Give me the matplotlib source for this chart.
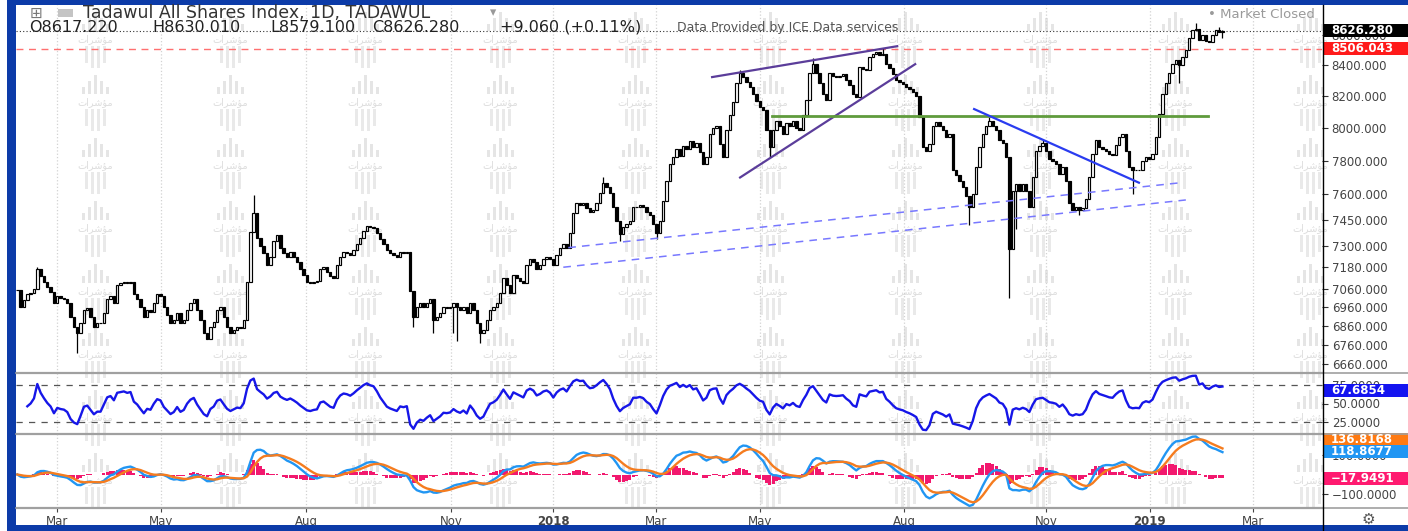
import numpy as np
import pandas as pd
import matplotlib
matplotlib.use("Agg")
import matplotlib.pyplot as plt
from matplotlib.patches import Rectangle
from matplotlib.ticker import FixedLocator, FixedFormatter, NullLocator, NullFormatter

plt.rcParams['font.family'] = ['DejaVu Sans']

# daily closes (one bar here ~ 1.4 sessions), Feb 2017 -> Feb 2019
closes = [
    7055, 6960, 7000, 7030, 7040, 7060, 7170, 7130, 7100, 7070,
    7045, 6985, 7020, 7010, 7005, 6985, 6910, 6855, 6825, 6875,
    6945, 6955, 6910, 6855, 6875, 6875, 6930, 7005, 7020, 6985,
    7080, 7090, 7100, 7090, 7100, 7030, 7005, 6960, 6910, 6945,
    6935, 6985, 7030, 7020, 6960, 6920, 6875, 6890, 6930, 6875,
    6890, 6945, 6985, 7005, 6945, 6890, 6825, 6790, 6855, 6880,
    6945, 6960, 6910, 6855, 6825, 6840, 6855, 6850, 6890, 7100,
    7380, 7490, 7345, 7300, 7260, 7190, 7240, 7330, 7360, 7290,
    7260, 7240, 7265, 7240, 7210, 7170, 7135, 7100, 7090, 7100,
    7105, 7170, 7180, 7155, 7130, 7120, 7190, 7240, 7265, 7260,
    7250, 7275, 7310, 7345, 7385, 7415, 7405, 7400, 7375, 7340,
    7310, 7275, 7260, 7250, 7240, 7265, 7260, 7265, 7050, 6910,
    6960, 6985, 6960, 6985, 7005, 6890, 6910, 6930, 6960, 6955,
    6960, 6985, 6960, 6945, 6960, 6930, 6985, 6945, 6875, 6825,
    6840, 6890, 6945, 6960, 6985, 7040, 7120, 7080, 7040, 7135,
    7120, 7105, 7090, 7190, 7225, 7210, 7170, 7190, 7225, 7240,
    7225, 7190, 7250, 7290, 7310, 7290, 7375, 7490, 7545, 7535,
    7545, 7515, 7495, 7505, 7545, 7605, 7665, 7640, 7605, 7525,
    7445, 7370, 7405, 7425, 7445, 7525, 7525, 7535, 7525, 7495,
    7475, 7425, 7375, 7445, 7560, 7680, 7780, 7820, 7870, 7830,
    7890, 7870, 7920, 7880, 7905, 7850, 7780, 7820, 7965, 8000,
    8010, 7900, 7820, 7985, 8080, 8160, 8285, 8350, 8325, 8290,
    8260, 8215, 8170, 8130, 8115, 7985, 7885, 7985, 8045, 8010,
    7965, 8030, 8010, 8045, 8000, 7985, 8080, 8175, 8350, 8410,
    8350, 8285, 8215, 8175, 8350, 8330, 8325, 8330, 8340, 8300,
    8270, 8215, 8195, 8390, 8375, 8365, 8455, 8470, 8485, 8465,
    8475, 8410, 8380, 8340, 8305, 8290, 8280, 8260, 8245, 8225,
    8200, 8065, 7880, 7860, 7900, 8010, 8035, 8010, 7985, 7945,
    7965, 7740, 7710, 7680, 7640, 7590, 7525, 7600, 7760, 7885,
    7965, 8010, 8045, 8015, 7985, 7925, 7905, 7820, 7280, 7620,
    7660, 7620, 7660, 7620, 7525, 7700, 7860, 7890, 7905, 7860,
    7810, 7800, 7780, 7720, 7760, 7680, 7545, 7505, 7525, 7505,
    7515, 7570, 7700, 7840, 7925, 7885, 7870, 7855, 7840, 7835,
    7895, 7945, 7965, 7860, 7760, 7740, 7745, 7740, 7800, 7820,
    7810, 7840, 7945, 8090, 8215, 8285, 8350, 8410, 8430, 8400,
    8455, 8500, 8580, 8630, 8640, 8565, 8600, 8560, 8550, 8600,
    8630, 8617.22, 8626.28,
]
# long wicks (bar index -> value)
wick_low = {18: 6720, 119: 6855, 125: 6825, 131: 6825, 132: 6780, 139: 6770,
            181: 7330, 192: 7340, 226: 7820, 286: 7420, 298: 7010, 300: 7395,
            319: 7475, 335: 7600, 349: 8285, 362: 8579.10}
wick_high = {6: 7180, 71: 7595, 176: 7700, 217: 8370, 239: 8445, 260: 8510,
             292: 8065, 308: 7925, 354: 8680, 361: 8650, 362: 8630.01}

month_pos = [12.0, 43.2, 86.8, 130.3, 161.0, 191.9, 223.1, 266.4, 309.0, 340.2, 371.2]
month_lbl = ['Mar', 'May', 'Aug', 'Nov', '2018', 'Mar', 'May', 'Aug', 'Nov', '2019', 'Mar']

price_ticks = [6660, 6760, 6860, 6960, 7060, 7180, 7300, 7450, 7600, 7800, 8000, 8200, 8400, 8600]
rsi_ticks = [25, 50, 75]
macd_ticks = [-100, 100]

alert_price = 8506.043
rsi_last = 67.6854
macd_last = 118.8677
signal_last = 136.8168
hist_last = -17.9491

# drawings on the chart: ((bar, price), (bar, price))
purple_lines = [((208.7, 8322), (264.3, 8524)), ((217.1, 7698), (269.7, 8406))]
green_line = ((226.7, 8074), (357.7, 8074))
blue_line = ((287.4, 8118), (336.9, 7667))
dashed_lines = [((165.5, 7290), (348.6, 7665)), ((164.0, 7180), (351.0, 7565))]

# ---------------------------------------------------------------
W, H = 1408, 531
c = pd.Series(closes, dtype=float)
o = c.shift(1).fillna(c.iloc[0])
hi = np.maximum(o, c).values.copy()
lo = np.minimum(o, c).values.copy()
for k, v in wick_high.items():
    hi[k] = max(hi[k], v)
for k, v in wick_low.items():
    lo[k] = min(lo[k], v)
x = np.arange(len(c))

# indicators (periods shortened since a bar is ~1.4 sessions)
d = c.diff().fillna(0)
gain = d.clip(lower=0).ewm(alpha=1 / 10, adjust=True).mean()
loss = (-d.clip(upper=0)).ewm(alpha=1 / 10, adjust=True).mean()
rsi = 100 - 100 / (1 + gain / loss)
rsi[:3] = np.nan
macd = c.ewm(span=8, adjust=False).mean() - c.ewm(span=18, adjust=False).mean()
signal = macd.ewm(span=6, adjust=False).mean()
hist = macd - signal


def rect(x0, y0, x1, y1):
    return [x0 / W, 1 - y1 / H, (x1 - x0) / W, (y1 - y0) / H]


fig = plt.figure(figsize=(W / 100, H / 100), dpi=100)
fig.patch.set_facecolor('white')

# background watermark
bg = fig.add_axes([0, 0, 1, 1], zorder=0)
bg.set_xlim(0, W)
bg.set_ylim(H, 0)
bg.axis('off')
wm = '\ufe95\ufe8d\ufeae\ufeb7\ufe86\ufee3'
for ry in np.arange(39, H - 20, 63):
    for cx in np.arange(95, 1360, 135):
        bg.text(cx, ry, wm, fontsize=7, color='#dddddd', ha='center', va='center')
        for dx, h in zip([-12, -6, 0, 6, 12], [7, 13, 19, 13, 7]):
            bg.add_patch(Rectangle((cx + dx - 1.5, ry - 8 - h), 3, h, fc='#e5e5e5', ec='none'))
        for dx, h in zip([-9, -3, 3, 9], [17, 22, 22, 17]):
            bg.add_patch(Rectangle((cx + dx - 1.5, ry + 7), 3, h, fc='#e9e9e9', ec='none'))

ax = fig.add_axes(rect(16, 5, 1322, 373), zorder=1)
ax_r = fig.add_axes(rect(16, 373, 1322, 434), zorder=1)
ax_m = fig.add_axes(rect(16, 434, 1322, 508), zorder=1)

for a in (ax, ax_r, ax_m):
    a.set_facecolor('none')
    a.set_xlim(-0.4, 391.9)
    a.xaxis.set_major_locator(FixedLocator(month_pos))
    a.grid(True, axis='x', color='#d2d2d2', ls=':', lw=0.9)
    a.set_axisbelow(True)
    for s in ('top', 'left', 'right'):
        a.spines[s].set_visible(False)
    a.spines['bottom'].set_color('#a0a0a0')
    a.spines['bottom'].set_linewidth(1.6)
    a.yaxis.tick_right()
    a.tick_params(axis='y', right=True, left=False, labelright=True, labelleft=False,
                  length=4, width=0.8, color='#333333', labelsize=8.5,
                  labelcolor='#444444', pad=3)
    a.yaxis.set_minor_locator(NullLocator())
for a in (ax, ax_r):
    a.tick_params(axis='x', bottom=False, labelbottom=False)

# price pane
ax.set_yscale('log')
ax.set_ylim(6614, 8801)
ax.yaxis.set_major_locator(FixedLocator(price_ticks))
ax.yaxis.set_major_formatter(FixedFormatter([f'{t:.3f}' for t in price_ticks]))
ax.yaxis.set_minor_locator(NullLocator())
ax.yaxis.set_minor_formatter(NullFormatter())

ax.axhline(c.iloc[-1], color='#333333', ls=(0, (1, 2)), lw=0.8, zorder=1)
ax.axhline(alert_price, color='#ff7070', ls=(0, (5, 4)), lw=1.0, zorder=1)

up = (c >= o).values
ax.vlines(x, lo, hi, color='black', lw=0.9, zorder=2)
ax.bar(x, np.abs(c - o), bottom=np.minimum(o, c), width=0.72,
       color=np.where(up, 'white', 'black'), edgecolor='black', linewidth=0.85, zorder=3)

for (x0, y0), (x1, y1) in purple_lines:
    ax.plot([x0, x1], [y0, y1], color='#5b3d9a', lw=1.6, zorder=4)
ax.plot([green_line[0][0], green_line[1][0]], [green_line[0][1], green_line[1][1]],
        color='#5f9b3c', lw=2.0, zorder=4)
ax.plot([blue_line[0][0], blue_line[1][0]], [blue_line[0][1], blue_line[1][1]],
        color='#2a3cf0', lw=1.6, zorder=4)
for (x0, y0), (x1, y1) in dashed_lines:
    ax.plot([x0, x1], [y0, y1], color='#7878ff', lw=1.1, ls=(0, (5, 4)), zorder=4)

# RSI pane
ax_r.set_ylim(8.3, 91.7)
ax_r.yaxis.set_major_locator(FixedLocator(rsi_ticks))
ax_r.yaxis.set_major_formatter(FixedFormatter([f'{t:.4f}' for t in rsi_ticks]))
for lvl in (25, 75):
    ax_r.axhline(lvl, color='#555555', ls=(0, (5, 5)), lw=0.9)
ax_r.plot(x, rsi, color='#1616e8', lw=1.7)

# MACD pane
ax_m.set_ylim(-172, 208)
ax_m.yaxis.set_major_locator(FixedLocator(macd_ticks))
ax_m.yaxis.set_major_formatter(FixedFormatter([f'{t:.4f}'.replace('-', '\u2212') for t in macd_ticks]))
ax_m.bar(x, hist, width=0.9, color='#f2186e', zorder=2)
ax_m.plot(x, macd, color='#2196f3', lw=1.7, zorder=3)
ax_m.plot(x, signal, color='#f57c1f', lw=1.7, zorder=4)
ax_m.set_xticks(month_pos)
ax_m.set_xticklabels(month_lbl)
ax_m.tick_params(axis='x', bottom=True, length=3, width=0.8, color='#444444',
                 labelsize=8.5, labelcolor='#444444', pad=2)
for t in ax_m.get_xticklabels():
    if t.get_text() in ('2018', '2019'):
        t.set_fontweight('bold')

# overlay: labels, header, frame
ov = fig.add_axes([0, 0, 1, 1], zorder=10)
ov.set_xlim(0, W)
ov.set_ylim(H, 0)
ov.axis('off')
ov.patch.set_alpha(0)


def scale_box(axis, val, txt, fc, dy=0.0):
    ypx = H - axis.transData.transform((0, val))[1] + dy
    ov.add_patch(Rectangle((1323, ypx - 6.5), 85, 13, fc=fc, ec='none'))
    ov.text(1331, ypx, txt, color='white', fontsize=8.5, fontweight='bold',
            va='center', ha='left')


scale_box(ax, c.iloc[-1], f'{c.iloc[-1]:.3f}', 'black')
scale_box(ax, alert_price, f'{alert_price:.3f}', '#ff1a1a')
scale_box(ax_r, rsi_last, f'{rsi_last:.4f}', '#1414f0')
scale_box(ax_m, signal_last, f'{signal_last:.4f}', '#ff7a12', dy=-8)
scale_box(ax_m, macd_last, f'{macd_last:.4f}', '#2196f3')
scale_box(ax_m, hist_last, f'{hist_last:.4f}'.replace('-', '\u2212'), '#ff1a70')

# separators and price-scale line
for yy in (373, 434, 508):
    ov.plot([16, W], [yy, yy], color='#a0a0a0', lw=1.2)
ov.plot([1322.5, 1322.5], [5, 531], color='black', lw=1.0)

# header legend
ov.text(30, 13, '\u229e', fontsize=11, color='#777777', va='center')
ov.add_patch(Rectangle((58, 9), 15, 8, fc='#c4c4c4', ec='none'))
ov.text(83, 13, 'Tadawul All Shares Index, 1D, TADAWUL', fontsize=12.5,
        color='#333333', va='center')
ov.text(490, 13, '\u25be', fontsize=9, color='#999999', va='center')
o_last, h_last, l_last, c_last = o.iloc[-1], hi[-1], lo[-1], c.iloc[-1]
chg = c_last - o_last
items = [(f'O{o_last:.3f}', 29), (f'H{h_last:.3f}', 152), (f'L{l_last:.3f}', 270),
         (f'C{c_last:.3f}', 372), (f'+{chg:.3f} (+{chg / o_last * 100:.2f}%)', 500)]
for txt, xx in items:
    ov.text(xx, 27, txt, fontsize=11.5, color='#222222', va='center')
ov.text(677, 27, 'Data Provided by ICE Data services', fontsize=9, color='#555555', va='center')
ov.text(1315, 15, '\u2022 Market Closed', fontsize=9.5, color='#9a9a9a', va='center', ha='right')
ov.text(1368, 519, '\u2699', fontsize=11, color='#555555', va='center', ha='center')

# blue frame
frame = '#0c3ba8'
ov.add_patch(Rectangle((7, 0), W - 7, 5, fc=frame, ec='none'))
ov.add_patch(Rectangle((7, 0), 9, H, fc=frame, ec='none'))
ov.add_patch(Rectangle((7, 525), W - 7, 6, fc=frame, ec='none'))

fig.savefig('out.png', dpi=100)
